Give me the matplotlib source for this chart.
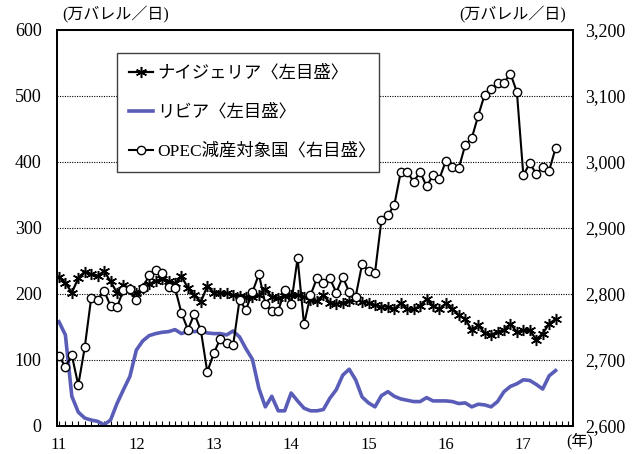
import numpy as np
import matplotlib
matplotlib.use("Agg")
import matplotlib.pyplot as plt
from matplotlib.ticker import FuncFormatter, FixedLocator

plt.rcParams["font.family"] = ["Liberation Serif", "Noto Sans CJK JP"]

# 月次データ: 2011年1月〜2017年6月
nigeria = [226, 217, 202, 224, 234, 230, 227, 235, 219, 202,
           214, 208, 202, 209, 215, 220, 222, 219, 216, 227,
           209, 198, 188, 212, 202, 202, 201, 198, 197, 195,
           195, 198, 207, 195, 194, 197, 198, 199, 196, 191,
           189, 198, 187, 185, 187, 189, 193, 188, 187, 183,
           181, 181, 177, 186, 177, 177, 182, 192, 182, 177,
           186, 177, 168, 162, 145, 153, 141, 138, 143, 145,
           155, 142, 145, 145, 131, 140, 155, 162]
libya = [158, 138, 45, 21, 12, 9, 7, 2, 9, 34,
         55, 75, 115, 129, 137, 140, 142, 143, 146, 140,
         144, 143, 144, 141, 140, 140, 138, 144, 135, 117,
         101, 57, 29, 45, 23, 23, 50, 38, 27, 23,
         23, 25, 42, 55, 77, 86, 70, 44, 35, 29,
         46, 52, 45, 41, 39, 37, 37, 43, 38, 38,
         38, 37, 34, 35, 29, 33, 32, 29, 37, 52,
         60, 64, 70, 69, 63, 56, 76, 84]
opec = [2706, 2690, 2707, 2662, 2719, 2794, 2791, 2805, 2782, 2780,
        2806, 2807, 2791, 2809, 2829, 2837, 2832, 2810, 2809, 2771,
        2746, 2770, 2745, 2682, 2710, 2732, 2726, 2722, 2791, 2776,
        2803, 2830, 2785, 2774, 2774, 2806, 2785, 2854, 2754, 2798,
        2824, 2816, 2824, 2802, 2826, 2803, 2796, 2845, 2835, 2832,
        2912, 2919, 2935, 2985, 2985, 2970, 2985, 2963, 2980, 2975,
        3002, 2993, 2991, 3026, 3036, 3070, 3102, 3110, 3119, 3120,
        3134, 3106, 2980, 2998, 2982, 2992, 2987, 3021]
year_labels = ["11", "12", "13", "14", "15", "16", "17"]
labels = ["ナイジェリア〈左目盛〉", "リビア〈左目盛〉", "OPEC減産対象国〈右目盛〉"]

months = np.arange(len(opec))

fig = plt.figure(figsize=(6.37, 4.54), dpi=100)
ax = fig.add_axes([57 / 637, 1 - 426 / 454, (573 - 57) / 637, (426 - 30) / 454])
ax2 = ax.twinx()

# 左目盛: ナイジェリア, リビア
l_lib, = ax.plot(months, libya, color="#5a5db8", lw=2.6, zorder=2)
l_nig, = ax.plot(months, nigeria, color="black", lw=1.6, marker=(6, 2, 0),
                 ms=8, mew=1.1, zorder=3)
# 右目盛: OPEC減産対象国
l_opec, = ax2.plot(months, opec, color="black", lw=1.5, marker="o", ms=6,
                   mfc="white", mec="black", mew=1.0)

ax.set_xlim(-0.3, 79.7)
ax.set_ylim(0, 600)
ax2.set_ylim(2600, 3200)
ax.set_yticks(range(0, 601, 100))
ax2.set_yticks(range(2600, 3201, 100))
ax2.yaxis.set_major_formatter(FuncFormatter(lambda v, p: f"{int(v):,}"))

ax.set_xticks(np.arange(len(year_labels)) * 12)
ax.set_xticklabels(year_labels)
ax.xaxis.set_minor_locator(FixedLocator(np.arange(0, 80)))
ax.tick_params(axis="x", which="both", direction="in", length=3.5, width=0.8,
               labelsize=12, pad=8)
ax.tick_params(axis="y", length=0, labelsize=13, pad=11)
ax2.tick_params(axis="y", length=0, labelsize=13, pad=9)

ax.yaxis.grid(True, linestyle=(0, (1, 1.2)), color="black", lw=0.8)
ax.set_axisbelow(True)
for a in (ax, ax2):
    for s in a.spines.values():
        s.set_color("black")
        s.set_linewidth(1.3)

fig.text(62 / 637, 1 - 15 / 454, "(万バレル／日)", fontsize=11.5, va="center")
fig.text(566 / 637, 1 - 15 / 454, "(万バレル／日)", fontsize=11.5, va="center", ha="right")
fig.text(566 / 637, 1 - 441 / 454, "(年)", fontsize=11.5, va="center")

leg = ax2.legend([l_nig, l_lib, l_opec], labels,
                 loc="upper left",
                 bbox_to_anchor=(117 / 637, 1 - 172 / 454, (379 - 117) / 637, (172 - 53) / 454),
                 bbox_transform=fig.transFigure, mode="expand", borderaxespad=0,
                 fontsize=12.5, frameon=True, fancybox=False, framealpha=1,
                 edgecolor="#404040", handlelength=1.4, handletextpad=0.2,
                 labelspacing=1.3, borderpad=0.7)
leg.get_frame().set_linewidth(1.0)

fig.savefig("out.png", dpi=100)
